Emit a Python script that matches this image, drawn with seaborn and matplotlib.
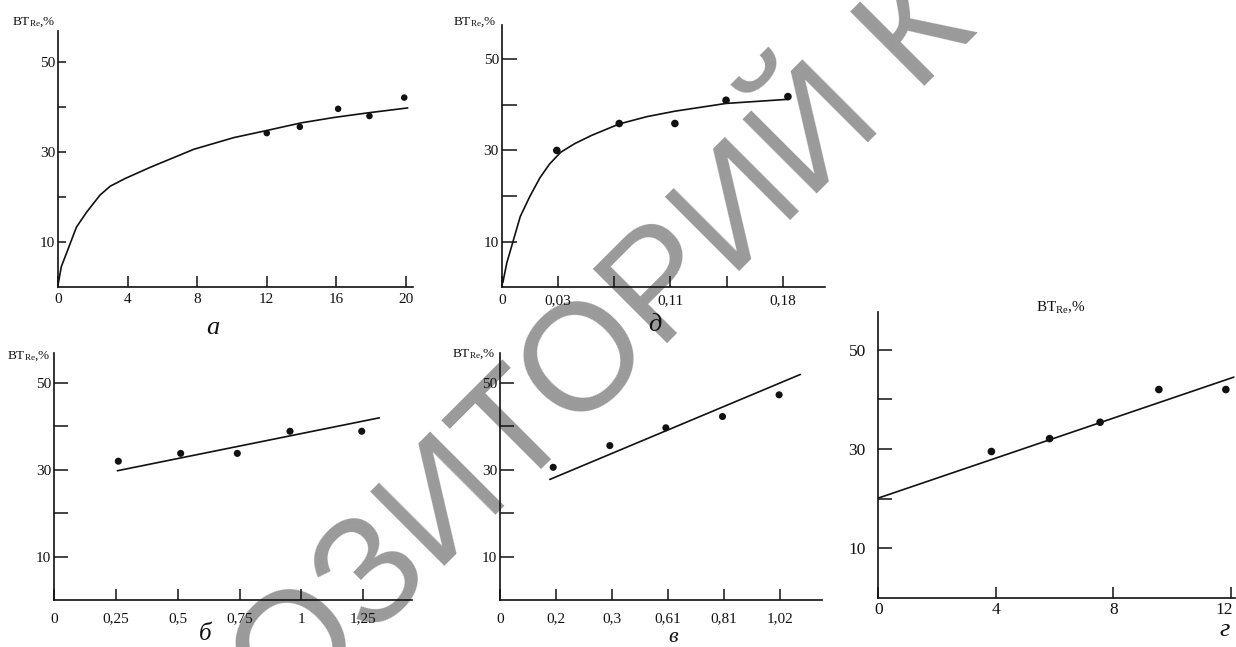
import numpy as np
import pandas as pd
import seaborn as sns
import matplotlib.pyplot as plt
from matplotlib.transforms import ScaledTranslation

sns.set_style('ticks')
plt.rcParams['font.family'] = ['Liberation Serif', 'DejaVu Serif']
plt.rcParams['mathtext.fontset'] = 'custom'
plt.rcParams['mathtext.rm'] = 'Liberation Serif'
plt.rcParams['mathtext.it'] = 'Liberation Serif:italic'

# --- данные ---
# а
a_pts_x = [12, 13.9, 16.1, 17.9, 19.9]
a_pts_y = [34.2, 35.6, 39.6, 38.0, 42.1]
a_curve_x = [0, 0.19, 0.48, 1.06, 1.64, 2.41, 3.0, 3.85, 5.3, 7.8, 10.1, 11.9, 14.0, 15.9, 17.8, 20.1]
a_curve_y = [0.4, 4.5, 7.4, 13.3, 16.6, 20.4, 22.4, 24.1, 26.6, 30.6, 33.2, 34.7, 36.5, 37.7, 38.7, 39.8]
a_xticks = [0, 4, 8, 12, 16, 20]
a_xlabels = ['0', '4', '8', '12', '16', '20']

# д (ось x - номера делений)
d_pts_x = [0.98, 2.09, 3.08, 3.99, 5.09]
d_pts_y = [30.0, 35.9, 35.9, 41.0, 41.8]
d_curve_x = [0.02, 0.09, 0.21, 0.33, 0.5, 0.68, 0.85, 1.05, 1.3, 1.6, 2.09, 2.58, 3.08, 3.99, 5.09]
d_curve_y = [1.0, 5.3, 10.4, 15.5, 19.9, 24.0, 27.0, 29.6, 31.5, 33.3, 35.8, 37.4, 38.6, 40.3, 41.2]
d_xlabels = ['0', '0,03', '', '0,11', '', '0,18']

# б
b_pts_x = [0.26, 0.512, 0.741, 0.954, 1.244]
b_pts_y = [32.0, 33.8, 33.8, 38.9, 38.9]
b_line_x = [0.256, 1.315]
b_line_y = [29.8, 42.0]
b_xticks = [0, 0.25, 0.5, 0.75, 1.0, 1.25]
b_xlabels = ['0', '0,25', '0,5', '0,75', '1', '1,25']

# в (ось x - номера делений)
v_pts_x = [0.95, 1.96, 2.96, 3.97, 4.98]
v_pts_y = [30.6, 35.6, 39.7, 42.3, 47.3]
v_line_x = [0.89, 5.36]
v_line_y = [27.8, 52.0]
v_xlabels = ['0', '0,2', '0,3', '0,61', '0,81', '1,02']

# г
g_pts_x = [3.85, 5.83, 7.55, 9.55, 11.83]
g_pts_y = [29.5, 32.1, 35.4, 42.0, 42.0]
g_line_x = [0, 12.1]
g_line_y = [20.1, 44.5]
g_xticks = [0, 4, 8, 12]
g_xlabels = ['0', '4', '8', '12']

y_ticks = [10, 20, 30, 40, 50]
y_labels = ['10', '', '30', '', '50']
ylab = r'BT$_{\rm Re}$,%'

W, H = 1236, 647
fig = plt.figure(figsize=(W / 100, H / 100), dpi=100)


def px(x, y):
    return x / W, 1 - y / H


def make_ax(rect, xlim, ylim, xticks, xlabels, ylen, xpad, fs):
    ax = fig.add_axes(rect)
    ax.patch.set_alpha(0)
    ax.set_xlim(*xlim)
    ax.set_ylim(*ylim)
    sns.despine(ax=ax)
    for s in ['left', 'bottom']:
        ax.spines[s].set_linewidth(1.2)
        ax.spines[s].set_color('#111111')
    ax.set_xticks(xticks)
    ax.set_xticklabels(xlabels)
    ax.set_yticks(y_ticks)
    ax.set_yticklabels(y_labels)
    ax.tick_params(axis='x', direction='in', length=8, width=1.1, pad=xpad, labelsize=fs, colors='#111111')
    ax.tick_params(axis='y', direction='in', length=ylen, width=1.1, pad=2, labelsize=fs, colors='#111111')
    return ax


def draw(ax, lx, ly, sx, sy, ms):
    sns.lineplot(x=lx, y=ly, ax=ax, color='#111111', lw=1.2, sort=False)
    sns.scatterplot(x=sx, y=sy, ax=ax, color='#111111', s=ms, edgecolor='none', zorder=5)


# а
ax_a = make_ax([0.0469, 0.5564, 0.2872, 0.3957], (0, 20.4), (0, 56.9), a_xticks, a_xlabels, 6, 4, 11)
draw(ax_a, a_curve_x, a_curve_y, a_pts_x, a_pts_y, 22)

# д
ax_d = make_ax([0.4059, 0.556, 0.2616, 0.4054], (0, 5.75), (0, 57.5), list(range(6)), d_xlabels, 11, 5, 11)
draw(ax_d, d_curve_x, d_curve_y, d_pts_x, d_pts_y, 30)

# б
ax_b = make_ax([0.0437, 0.0726, 0.2894, 0.3822], (0, 1.446), (0, 57), b_xticks, b_xlabels, 10, 9, 11)
draw(ax_b, b_line_x, b_line_y, b_pts_x, b_pts_y, 26)

# в
ax_v = make_ax([0.4045, 0.0726, 0.2603, 0.3822], (0, 5.74), (0, 57), list(range(6)), v_xlabels, 10, 9, 11)
draw(ax_v, v_line_x, v_line_y, v_pts_x, v_pts_y, 26)

# г
ax_g = make_ax([0.7106, 0.0762, 0.2888, 0.442], (0, 12.15), (0, 57.7), g_xticks, g_xlabels, 10, 3, 12.5)
ax_g.tick_params(axis='y', pad=9)
draw(ax_g, g_line_x, g_line_y, g_pts_x, g_pts_y, 30)
# последняя подпись "12" у самого края - чуть сдвигаем влево
lab12 = ax_g.get_xticklabels()[-1]
lab12.set_transform(lab12.get_transform() + ScaledTranslation(-5 / 72, 0, fig.dpi_scale_trans))

# подписи осей
for (x, y, fs) in [(34, 22, 9.5), (475, 22, 9.5), (29, 356, 9.5), (474, 354, 9.5), (1061, 308, 11)]:
    fig.text(*px(x, y), ylab, fontsize=fs, ha='center', va='center', color='#111111')

# буквы панелей
for (x, y, t, fs) in [(213, 328, 'а', 19), (655, 325, 'д', 19), (205, 634, 'б', 18),
                      (673, 638, 'в', 16), (1225, 630, 'г', 19)]:
    fig.text(*px(x, y), t, fontsize=fs, style='italic', ha='center', va='center', color='#111111')

# водяной знак
fig.text(65 / W, -298 / H, 'РЕПОЗИТОРИЙ К', family='Liberation Sans', fontsize=110,
         color='#9a9a9a', rotation=45, rotation_mode='anchor', ha='left', va='baseline', zorder=-1)

fig.savefig('out.png', dpi=100, facecolor='white')
